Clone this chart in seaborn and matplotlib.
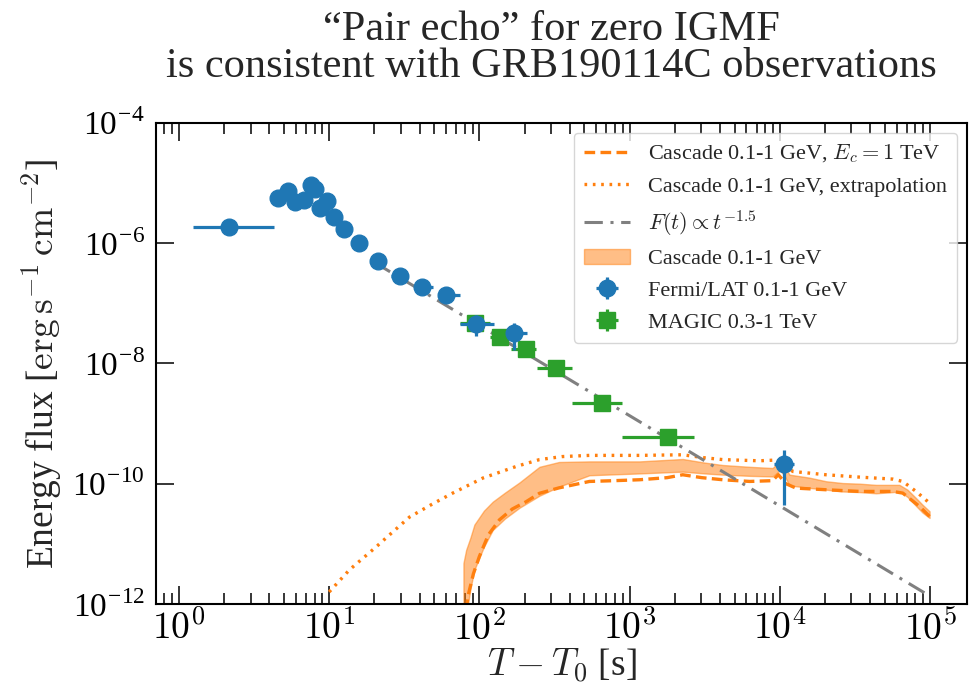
import numpy as np
import pandas as pd
import matplotlib
matplotlib.use("Agg")
import matplotlib.pyplot as plt
import seaborn as sns
from matplotlib.ticker import FixedLocator, LogLocator, FuncFormatter, NullLocator

# ---------------------------------------------------------------- data
# Fermi/LAT 0.1-1 GeV light curve: time [s], time bin edges, energy flux
lat_t = [2.14, 4.56, 5.31, 5.95, 6.76, 7.52, 8.08, 8.63, 9.71, 10.7, 12.6,
         15.8, 21.1, 29.4, 41.4, 60.1, 95.2, 171.0, 1.07e4]
lat_t_lo = [1.24, 4.40, 5.12, 5.75, 6.53, 7.28, 7.82, 8.36, 9.40, 10.3, 12.0,
            15.0, 18.6, 25.9, 37.0, 54.0, 73.8, 151.0, 9190.0]
lat_t_hi = [4.29, 4.72, 5.50, 6.15, 6.99, 7.76, 8.34, 8.90, 10.0, 11.1, 13.2,
            16.6, 24.0, 33.4, 48.8, 74.0, 126.0, 207.0, 1.25e4]
lat_flux = [1.83e-6, 5.68e-6, 7.41e-6, 4.88e-6, 5.20e-6, 9.20e-6, 7.83e-6,
            3.78e-6, 5.06e-6, 2.68e-6, 1.71e-6, 9.93e-7, 5.05e-7, 2.88e-7,
            1.89e-7, 1.36e-7, 4.53e-8, 3.25e-8, 2.11e-10]
lat_flux_lo = [1.65e-6, 5.10e-6, 6.70e-6, 4.40e-6, 4.70e-6, 8.30e-6, 7.05e-6,
               3.40e-6, 4.55e-6, 2.40e-6, 1.53e-6, 8.90e-7, 4.50e-7, 2.55e-7,
               1.66e-7, 1.18e-7, 2.86e-8, 1.68e-8, 4.47e-11]
lat_flux_hi = [2.01e-6, 6.25e-6, 8.15e-6, 5.35e-6, 5.70e-6, 1.01e-5, 8.60e-6,
               4.15e-6, 5.55e-6, 2.95e-6, 1.89e-6, 1.10e-6, 5.60e-7, 3.20e-7,
               2.12e-7, 1.55e-7, 6.46e-8, 4.68e-8, 3.65e-10]

# MAGIC 0.3-1 TeV light curve
magic_t = [92.8, 138.0, 203.0, 324.0, 652.0, 1811.0]
magic_t_lo = [73.8, 118.0, 163.0, 241.0, 414.0, 891.0]
magic_t_hi = [117.0, 160.0, 239.0, 414.0, 891.0, 2700.0]
magic_flux = [4.77e-8, 2.79e-8, 1.72e-8, 8.51e-9, 2.23e-9, 5.94e-10]
magic_flux_lo = [4.35e-8, 2.55e-8, 1.57e-8, 7.75e-9, 2.02e-9, 5.35e-10]
magic_flux_hi = [5.20e-8, 3.05e-8, 1.88e-8, 9.30e-9, 2.45e-9, 6.55e-10]

# Cascade band (0.1-1 GeV): log10 time, log10 upper / lower flux
band_log_t = [1.894, 1.912, 1.94, 1.967, 2.03, 2.089, 2.17, 2.267, 2.40, 2.53,
              2.733, 3.066, 3.354, 3.50, 3.62, 3.80, 3.952, 4.00, 4.03, 4.064,
              4.197, 4.308, 4.419, 4.530, 4.641, 4.752, 4.796, 4.85, 4.907,
              4.95, 4.997]
band_log_hi = [-11.32, -11.10, -10.90, -10.68, -10.45, -10.30, -10.15, -9.98,
               -9.72, -9.64, -9.63, -9.63, -9.59, -9.65, -9.69, -9.72, -9.74,
               -9.63, -9.70, -9.85, -9.90, -9.96, -9.99, -10.00, -10.02,
               -10.02, -10.02, -10.10, -10.24, -10.35, -10.46]
band_log_lo = [-12.6, -12.2, -11.75, -11.43, -11.05, -10.77, -10.58, -10.40,
               -10.20, -10.05, -9.86, -9.83, -9.80, -9.83, -9.85, -9.87, -9.88,
               -9.78, -9.86, -10.03, -10.07, -10.10, -10.13, -10.14, -10.16,
               -10.14, -10.13, -10.22, -10.37, -10.48, -10.57]

# Cascade 0.1-1 GeV with E_c = 1 TeV
ec_log_t = [1.912, 1.924, 1.96, 2.0, 2.06, 2.134, 2.22, 2.311, 2.40, 2.53,
            2.733, 2.90, 3.066, 3.25, 3.354, 3.48, 3.62, 3.80, 3.952, 3.99,
            4.04, 4.108, 4.308, 4.530, 4.752, 4.819, 4.93, 4.997]
ec_log_f = [-12.1, -11.87, -11.5, -11.21, -10.85, -10.60, -10.42, -10.30,
            -10.16, -10.07, -9.963, -9.95, -9.935, -9.90, -9.852, -9.90,
            -9.935, -9.963, -9.95, -9.85, -10.0, -10.074, -10.101, -10.129,
            -10.129, -10.157, -10.378, -10.544]

# Cascade 0.1-1 GeV, extrapolation
ext_log_t = [1.0, 1.136, 1.313, 1.402, 1.535, 1.691, 1.823, 2.023, 2.245,
             2.40, 2.55, 2.733, 3.066, 3.354, 3.50, 3.62, 3.864, 3.952, 4.03,
             4.086, 4.308, 4.530, 4.752, 4.819, 4.907, 4.997]
ext_log_f = [-11.80, -11.43, -11.05, -10.85, -10.555, -10.333, -10.156, -9.907,
             -9.714, -9.60, -9.55, -9.53, -9.53, -9.52, -9.57, -9.60, -9.62,
             -9.61, -9.66, -9.797, -9.852, -9.891, -9.924, -9.963, -10.129,
             -10.323]

# Power-law decay F(t) = A t^-1.5
pl_t = [20.0, 1.0e5]
pl_norm = 10 ** -4.37
pl_index = -1.5

# Axis ticks
x_ticks = [1e0, 1e1, 1e2, 1e3, 1e4, 1e5]
y_ticks = [1e-12, 1e-10, 1e-8, 1e-6, 1e-4]

title_text = "\u201cPair echo\u201d for zero IGMF\nis consistent with GRB190114C observations"

# ---------------------------------------------------------------- style
sns.set_theme(style="ticks")
plt.rcParams["font.family"] = ["Liberation Serif", "DejaVu Serif"]
plt.rcParams["mathtext.fontset"] = "cm"

blue = "#1f77b4"
orange = "#ff7f0e"
green = "#2ca02c"

fig = plt.figure(figsize=(9.73, 6.88), dpi=100)
ax = fig.add_axes([0.1603, 0.1221, 0.8335, 0.6996])

# cascade band
band_t = np.power(10.0, band_log_t)
fill = ax.fill_between(band_t, np.power(10.0, band_log_lo), np.power(10.0, band_log_hi),
                       color=orange, alpha=0.5, lw=1.0, zorder=1,
                       label="Cascade 0.1-1 GeV")

curves = pd.DataFrame({
    "t": np.concatenate([np.power(10.0, ec_log_t), np.power(10.0, ext_log_t)]),
    "flux": np.concatenate([np.power(10.0, ec_log_f), np.power(10.0, ext_log_f)]),
    "curve": ["ec"] * len(ec_log_t) + ["ext"] * len(ext_log_t),
})
sns.lineplot(data=curves[curves.curve == "ec"], x="t", y="flux", ax=ax,
             color=orange, lw=2.4, linestyle=(0, (3.2, 1.6)), sort=False,
             zorder=2)
sns.lineplot(data=curves[curves.curve == "ext"], x="t", y="flux", ax=ax,
             color=orange, lw=2.4, linestyle=(0, (0.8, 1.7)), sort=False,
             zorder=2)

pl = pd.DataFrame({"t": pl_t})
pl["flux"] = pl_norm * pl["t"] ** pl_index
sns.lineplot(data=pl, x="t", y="flux", ax=ax, color="grey", lw=2.2,
             linestyle=(0, (6, 2.5, 1, 2.5)), zorder=2)

dash_line, dot_line, pl_line = ax.get_lines()[-3:]

# data points
lat = ax.errorbar(lat_t, lat_flux,
                  xerr=[np.subtract(lat_t, lat_t_lo), np.subtract(lat_t_hi, lat_t)],
                  yerr=[np.subtract(lat_flux, lat_flux_lo), np.subtract(lat_flux_hi, lat_flux)],
                  fmt="o", color=blue, ms=12, elinewidth=2.3, capsize=0, zorder=4)
magic = ax.errorbar(magic_t, magic_flux,
                    xerr=[np.subtract(magic_t, magic_t_lo), np.subtract(magic_t_hi, magic_t)],
                    yerr=[np.subtract(magic_flux, magic_flux_lo), np.subtract(magic_flux_hi, magic_flux)],
                    fmt="s", color=green, ms=11.5, elinewidth=2.3, capsize=0, zorder=3)

# axes
ax.set_xscale("log")
ax.set_yscale("log")
ax.set_xlim(10 ** -0.153, 10 ** 5.246)
ax.set_ylim(1e-12, 1e-4)

ax.xaxis.set_major_locator(FixedLocator(x_ticks))
ax.xaxis.set_minor_locator(LogLocator(base=10, subs=np.arange(2, 10), numticks=20))
ax.xaxis.set_major_formatter(FuncFormatter(lambda v, p: r"$10^{%d}$" % round(np.log10(v))))
ax.yaxis.set_major_locator(FixedLocator(y_ticks))
ax.yaxis.set_minor_locator(NullLocator())
ax.yaxis.set_major_formatter(FuncFormatter(
    lambda v, p: r"10$^{\mathregular{%d}}$" % round(np.log10(v))))

ax.tick_params(which="both", direction="in", top=True, right=True,
               colors="black", width=1.1)
ax.tick_params(which="major", length=13, pad=6)
ax.tick_params(axis="x", which="major", labelsize=27, pad=5)
ax.tick_params(axis="y", which="major", labelsize=24, pad=8)
ax.tick_params(which="minor", length=8)
for s in ax.spines.values():
    s.set_linewidth(1.5)
    s.set_color("black")

ax.set_xlabel(r"$T - T_0$ [s]", fontsize=27, labelpad=-1)
ax.set_ylabel(r"Energy flux [$\mathrm{erg\,s^{-1}\,cm^{-2}}$]", fontsize=27, labelpad=6)
fig.text(0.567, 1 - 10 / 688, title_text, ha="center", va="top",
         fontsize=30.5, linespacing=0.98)

handles = [dash_line, dot_line, pl_line, fill, lat, magic]
labels = [r"Cascade 0.1-1 GeV, $E_c = 1$ TeV",
          "Cascade 0.1-1 GeV, extrapolation",
          r"$F(t) \propto t^{-1.5}$",
          "Cascade 0.1-1 GeV",
          "Fermi/LAT 0.1-1 GeV",
          "MAGIC 0.3-1 TeV"]
leg = ax.legend(handles, labels, loc="upper right", fontsize=16,
                handlelength=2.1, handletextpad=0.8, labelspacing=0.5,
                frameon=True, fancybox=True, borderpad=0.45,
                borderaxespad=0.45)
leg.get_frame().set_edgecolor("0.8")
leg.get_frame().set_linewidth(1.0)

fig.savefig("out.png", dpi=100)
